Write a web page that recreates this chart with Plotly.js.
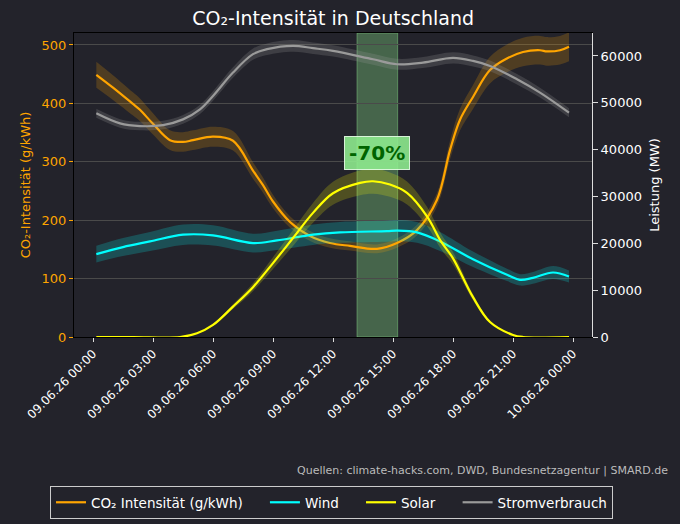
<!DOCTYPE html>
<html>
<head>
<meta charset="utf-8">
<script src="https://cdn.plot.ly/plotly-3.0.1.min.js"></script>
<style>
  html, body { margin: 0; padding: 0; background: #23232b; }
  #chart { width: 680px; height: 524px; }
</style>
</head>
<body>
<div id="chart"></div>
<script>
const DAY = '2026-06-09 ';

// CO2 intensity (g/kWh), left axis
const co2Times  = ['00:10','01:00','02:00','02:21','03:00','03:51','04:30','05:00','06:00','07:00','08:00','08:30','09:00','09:51','10:51','11:51','12:51','14:12','15:12','16:12','17:12','17:51','18:21','19:00','19:51','20:42','21:30','22:21','22:42','23:21','23:48'];
const co2Values = [449, 427, 399, 389, 365, 337, 334, 337, 343, 336, 285, 260, 232, 197, 173, 161, 156, 151, 161, 183, 235, 320, 372, 411, 457, 477, 488, 491, 489, 491, 497];

// Wind (MW), right axis
const windTimes  = ['00:10','01:30','02:51','04:30','06:00','08:00','09:12','11:00','12:21','14:42','15:12','16:12','17:21','19:00','20:42','21:21','22:00','23:00','23:48'];
const windValues = [17700, 19200, 20400, 21840, 21700, 20060, 20620, 21840, 22330, 22600, 22700, 22330, 20400, 16600, 13270, 12200, 12630, 13770, 12900];

// Solar (MW), right axis
const solarTimes  = ['00:10','02:00','04:21','05:12','06:00','07:00','08:00','09:00','10:00','11:00','12:00','13:21','14:00','14:51','15:42','16:42','17:24','18:00','19:00','19:51','21:00','21:30','23:48'];
const solarValues = [0, 0, 0, 790, 2570, 6490, 10640, 15780, 21130, 26500, 30700, 32900, 33250, 32540, 30760, 25760, 20400, 16800, 8500, 3200, 430, 0, 0];

// Stromverbrauch (MW), right axis
const loadTimes  = ['00:10','01:21','02:21','03:30','04:30','05:21','06:00','07:00','08:00','08:42','10:00','11:00','12:00','14:00','15:12','16:30','18:00','19:00','19:51','21:12','22:21','23:48'];
const loadValues = [47750, 45600, 45030, 45240, 46460, 48600, 51450, 56450, 60380, 61450, 62160, 61660, 61080, 59300, 58230, 58590, 59580, 58940, 57870, 55020, 52170, 47890];

// Labels
const titleText   = 'CO₂-Intensität in Deutschland';
const yLeftTitle  = 'CO₂-Intensität (g/kWh)';
const yRightTitle = 'Leistung (MW)';
const seriesNames = ['CO₂ Intensität (g/kWh)', 'Wind', 'Solar', 'Stromverbrauch'];
const sourceText  = 'Quellen: climate-hacks.com, DWD, Bundesnetzagentur | SMARD.de';
const highlightText = '-70%';
const highlightStart = '13:12';
const highlightEnd   = '15:14';
const highlightLabelTime = '14:12';
const highlightLabelValue = 315;

const FONT = 'DejaVu Sans, Verdana, sans-serif';
const BG = '#23232b';
const GAP = '\u00a0\u00a0\u00a0\u00a0';

function t(arr) { return arr.map(s => DAY + s); }

function band(times, values, rel, color, axis) {
  const x = t(times);
  const lower = values.map(v => v * (1 - rel));
  const upper = values.map(v => v * (1 + rel));
  return [
    { x: x, y: lower, yaxis: axis, type: 'scatter', mode: 'lines',
      line: { width: 0, shape: 'spline', color: color }, showlegend: false, hoverinfo: 'skip' },
    { x: x, y: upper, yaxis: axis, type: 'scatter', mode: 'lines', fill: 'tonexty',
      fillcolor: color, line: { width: 0, shape: 'spline', color: color }, showlegend: false, hoverinfo: 'skip' }
  ];
}

function line(times, values, name, color, axis) {
  return { x: t(times), y: values, yaxis: axis, type: 'scatter', mode: 'lines', name: name,
    line: { color: color, width: 2.2, shape: 'spline' } };
}

const data = [].concat(
  band(co2Times, co2Values, 0.05, 'rgba(255,165,0,0.2)', 'y'),
  [line(co2Times, co2Values, seriesNames[0] + GAP, '#ffa500', 'y')],
  band(windTimes, windValues, 0.10, 'rgba(0,255,255,0.2)', 'y2'),
  [line(windTimes, windValues, seriesNames[1] + GAP, '#00ffff', 'y2')],
  band(solarTimes, solarValues, 0.08, 'rgba(255,255,0,0.2)', 'y2'),
  [line(solarTimes, solarValues, seriesNames[2] + GAP, '#ffff00', 'y2')],
  band(loadTimes, loadValues, 0.02, 'rgba(160,160,160,0.22)', 'y2'),
  [line(loadTimes, loadValues, seriesNames[3], '#9a9a9a', 'y2')]
);

const layout = {
  width: 680, height: 524,
  paper_bgcolor: BG, plot_bgcolor: BG,
  font: { family: FONT, color: '#ffffff', size: 12 },
  margin: { l: 74, r: 88, t: 33, b: 187, pad: 0, autoexpand: false },
  title: { text: titleText, font: { family: FONT, size: 19, color: '#ffffff' },
           x: 0.49, xref: 'container', y: 1 - 18 / 524, yref: 'container', yanchor: 'middle' },
  xaxis: {
    type: 'date', automargin: false,
    range: ['2026-06-08 23:03', '2026-06-10 00:57'],
    tick0: '2026-06-09 00:00', dtick: 3 * 3600 * 1000,
    tickformat: '%d.%m.%y %H:%M', tickangle: -45,
    tickfont: { family: FONT, size: 12, color: '#ffffff' },
    ticks: 'outside', ticklen: 4, tickcolor: '#dddddd',
    showgrid: false, zeroline: false,
    showline: true, linecolor: '#000000', linewidth: 1, mirror: true
  },
  yaxis: {
    automargin: false,
    range: [0, 520.5], dtick: 100,
    tickfont: { family: FONT, size: 13, color: '#ffa500' },
    ticks: 'outside', ticklen: 4, tickcolor: '#ffa500',
    showgrid: true, gridcolor: '#4a4a4a', gridwidth: 1,
    zeroline: false, showline: true, linecolor: '#000000', linewidth: 1,
    title: { text: yLeftTitle, font: { family: FONT, size: 13, color: '#ffa500' }, standoff: 8 }
  },
  yaxis2: {
    automargin: false,
    overlaying: 'y', side: 'right',
    range: [0, 64900], dtick: 10000, tickformat: 'd',
    tickfont: { family: FONT, size: 13, color: '#ffffff' },
    ticks: 'outside', ticklen: 5, tickcolor: '#dddddd',
    showgrid: false, zeroline: false,
    showline: true, linecolor: '#dddddd', linewidth: 1,
    title: { text: yRightTitle, font: { family: FONT, size: 13, color: '#ffffff' }, standoff: 8 }
  },
  shapes: [{
    type: 'rect', xref: 'x', yref: 'paper',
    x0: DAY + highlightStart, x1: DAY + highlightEnd, y0: 0, y1: 1,
    fillcolor: 'rgba(144,238,144,0.33)',
    line: { width: 1, color: 'rgba(144,238,144,0.4)' },
    layer: 'below'
  }],
  annotations: [
    { x: DAY + highlightLabelTime, y: highlightLabelValue, xref: 'x', yref: 'y',
      text: '<b>' + highlightText + '</b>', showarrow: false,
      font: { family: FONT, size: 20, color: '#006400' },
      bgcolor: 'rgba(144,238,144,0.88)', bordercolor: 'rgba(230,255,230,0.9)',
      borderwidth: 1, borderpad: 4 },
    { x: (670 - 74) / 518, y: (337 - 470) / 304, xref: 'paper', yref: 'paper',
      xanchor: 'right', yanchor: 'middle', text: sourceText, showarrow: false,
      font: { family: FONT, size: 11, color: '#bbbbbb' } }
  ],
  showlegend: true,
  legend: {
    orientation: 'h', traceorder: 'normal',
    xref: 'paper', x: (50 - 74) / 518, xanchor: 'left',
    yref: 'paper', y: (337 - 486) / 304, yanchor: 'top',
    font: { family: FONT, size: 13.5, color: '#ffffff' },
    bgcolor: BG, bordercolor: '#cccccc', borderwidth: 1
  }
};

Plotly.newPlot('chart', data, layout, { staticPlot: true, displayModeBar: false });
</script>
</body>
</html>
